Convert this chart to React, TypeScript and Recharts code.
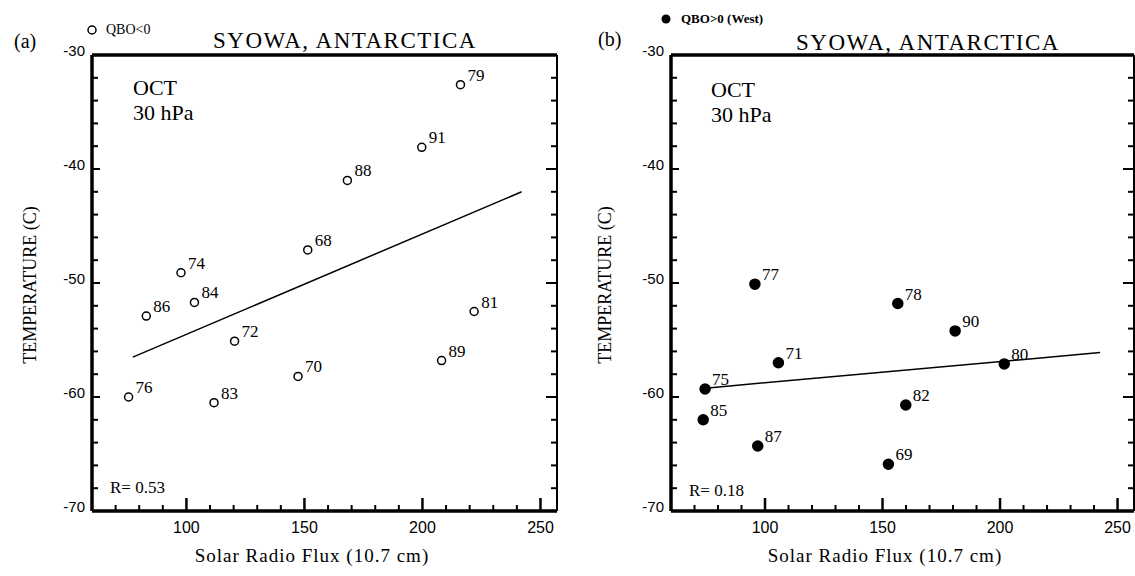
import React from "react";
import { ScatterChart, Scatter, XAxis, YAxis, ReferenceLine } from "recharts";

// panel (a): QBO<0 (open circles)
const yearsA = ["68", "70", "72", "74", "76", "79", "81", "83", "84", "86", "88", "89", "91"];
const fluxA = [151.4, 147.3, 120.4, 97.7, 75.5, 216.1, 221.9, 111.7, 103.4, 83.0, 168.2, 208.1, 199.7];
const tempA = [-47.1, -58.2, -55.1, -49.1, -60.0, -32.6, -52.5, -60.5, -51.7, -52.9, -41.0, -56.8, -38.1];
const fitFluxA = [77.3, 242.0];
const fitTempA = [-56.5, -42.0];

// panel (b): QBO>0 (West), filled dots
const yearsB = ["69", "71", "75", "77", "78", "80", "82", "85", "87", "90"];
const fluxB = [152.5, 105.7, 74.5, 95.7, 156.5, 201.8, 159.9, 73.7, 96.9, 180.9];
const tempB = [-65.9, -57.0, -59.3, -50.1, -51.8, -57.1, -60.7, -62.0, -64.3, -54.2];
const fitFluxB = [75.9, 242.6];
const fitTempB = [-59.2, -56.1];

const xTicks = [60, 70, 80, 90, 100, 110, 120, 130, 140, 150, 160, 170, 180, 190, 200, 210, 220, 230, 240, 250];
const xLabels = [100, 150, 200, 250];
const yTicks = [-70, -68, -66, -64, -62, -60, -58, -56, -54, -52, -50, -48, -46, -44, -42, -40, -38, -36, -34, -32, -30];
const yLabels = [-70, -60, -50, -40, -30];

const serif = "'Liberation Serif', 'Times New Roman', serif";
const sans = "'Liberation Sans', Arial, sans-serif";

const toRows = (years: string[], flux: number[], temp: number[]) =>
  years.map((yr, i) => ({ yr, flux: flux[i], temp: temp[i] }));

const BottomTick = (p: any) => {
  const v = p.payload.value;
  const major = v % 50 === 0;
  return (
    <g>
      <path d={`M${p.x},${p.y}V${p.y - (major ? 13 : 6)}`} stroke="#000" strokeWidth={major ? 2.5 : 2} fill="none" />
      {xLabels.includes(v) && (
        <text x={p.x} y={p.y + 22} textAnchor="middle" fontFamily={sans} fontSize={16} fill="#000">
          {v}
        </text>
      )}
    </g>
  );
};

const TopTick = (p: any) => {
  const major = p.payload.value % 50 === 0;
  return <path d={`M${p.x},${p.y}V${p.y + (major ? 12 : 6)}`} stroke="#000" strokeWidth={major ? 2.5 : 2} fill="none" />;
};

const LeftTick = (p: any) => {
  const v = p.payload.value;
  const major = v % 10 === 0;
  return (
    <g>
      <path d={`M${p.x},${p.y}H${p.x + (major ? 8 : 6)}`} stroke="#000" strokeWidth={2} fill="none" />
      {yLabels.includes(v) && (
        <text x={p.x - 7} y={p.y - 5} dominantBaseline="central" textAnchor="end" fontFamily={sans} fontSize={15} fill="#000">
          {v}
        </text>
      )}
    </g>
  );
};

const RightTick = (p: any) => {
  const major = p.payload.value % 10 === 0;
  return <path d={`M${p.x},${p.y}H${p.x - (major ? 11 : 6)}`} stroke="#000" strokeWidth={2} fill="none" />;
};

const Pt = (p: any, filled: boolean) => (
  <g>
    <circle cx={p.cx} cy={p.cy} r={filled ? 5 : 4} fill={filled ? "#000" : "#fff"} stroke="#000" strokeWidth={1.5} />
    <text x={p.cx + 7} y={p.cy - 4} fontFamily={serif} fontSize={17} fill="#000">
      {p.payload.yr}
    </text>
  </g>
);

const heavy = { stroke: "#000", strokeWidth: 3.5 };
const light = { stroke: "#000", strokeWidth: 2 };

// axes get a 1px box (recharts skips zero-sized axes); margins below are reduced by that 1px
const Panel = ({ rows, fitX, fitY, filled, width, margin }: any) => (
  <ScatterChart width={width} height={576} margin={margin}>
    <XAxis xAxisId="b" dataKey="flux" type="number" domain={[60, 257]} ticks={xTicks} interval={0} height={1}
      tickSize={0} tickMargin={0} tickLine={false} tick={BottomTick} {...heavy} axisLine={heavy} allowDataOverflow />
    <XAxis xAxisId="t" orientation="top" type="number" domain={[60, 257]} ticks={xTicks} interval={0} height={1}
      tickSize={0} tickMargin={0} tickLine={false} tick={TopTick} {...heavy} axisLine={heavy} allowDataOverflow />
    <YAxis yAxisId="l" dataKey="temp" type="number" domain={[-70, -30]} ticks={yTicks} interval={0} width={1}
      tickSize={0} tickMargin={0} tickLine={false} tick={LeftTick} {...heavy} axisLine={heavy} allowDataOverflow />
    <YAxis yAxisId="r" orientation="right" type="number" domain={[-70, -30]} ticks={yTicks} interval={0} width={1}
      tickSize={0} tickMargin={0} tickLine={false} tick={RightTick} {...light} axisLine={light} allowDataOverflow />
    <ReferenceLine xAxisId="b" yAxisId="l" ifOverflow="visible" stroke="#000" strokeWidth={1.5}
      segment={[{ x: fitX[0], y: fitY[0] }, { x: fitX[1], y: fitY[1] }]} />
    <Scatter xAxisId="b" yAxisId="l" data={rows} isAnimationActive={false} shape={(p: any) => Pt(p, filled)} />
  </ScatterChart>
);

const T = (props: any) => <text fontFamily={serif} fill="#000" {...props} />;

export default function App() {
  return (
    <div style={{ position: "absolute", left: 0, top: 0, width: 1135, height: 576, overflow: "hidden", background: "#fff" }}>
      <div style={{ position: "absolute", left: 0, top: 0 }}>
        <Panel rows={toRows(yearsA, fluxA, tempA)} fitX={fitFluxA} fitY={fitTempA} filled={false} width={567}
          margin={{ top: 54, left: 91, right: 9, bottom: 64 }} />
      </div>
      <div style={{ position: "absolute", left: 567, top: 0 }}>
        <Panel rows={toRows(yearsB, fluxB, tempB)} fitX={fitFluxB} fitY={fitTempB} filled={true} width={568}
          margin={{ top: 54, left: 103, right: 0, bottom: 64 }} />
      </div>
      <svg width={1135} height={576} style={{ position: "absolute", left: 0, top: 0, pointerEvents: "none" }}>
        {/* panel (a) */}
        <T x={14} y={48} fontSize={20}>(a)</T>
        <circle cx={92} cy={30} r={4} fill="#fff" stroke="#000" strokeWidth={1.5} />
        <T x={106} y={34} fontSize={14}>QBO&lt;0</T>
        <T x={345} y={48} fontSize={23} textAnchor="middle" letterSpacing={1.5}>SYOWA, ANTARCTICA</T>
        <T x={133} y={95} fontSize={22}>OCT</T>
        <T x={133} y={120} fontSize={22}>30 hPa</T>
        <T x={110} y={493} fontSize={17}>R= 0.53</T>
        <T x={0} y={0} fontSize={18} textAnchor="middle" transform="translate(36,285) rotate(-90)">TEMPERATURE (C)</T>
        <T x={312} y={562} fontSize={19} textAnchor="middle" letterSpacing={1}>Solar Radio Flux (10.7 cm)</T>
        {/* panel (b) */}
        <T x={598} y={46} fontSize={20}>(b)</T>
        <circle cx={666} cy={19} r={4.5} fill="#000" />
        <T x={681} y={23} fontSize={13} fontWeight="bold">QBO&gt;0 (West)</T>
        <T x={928} y={50} fontSize={23} textAnchor="middle" letterSpacing={1.5}>SYOWA, ANTARCTICA</T>
        <T x={711} y={97} fontSize={22}>OCT</T>
        <T x={711} y={122} fontSize={22}>30 hPa</T>
        <T x={689} y={496} fontSize={17}>R= 0.18</T>
        <T x={0} y={0} fontSize={18} textAnchor="middle" transform="translate(611,285) rotate(-90)">TEMPERATURE (C)</T>
        <T x={885} y={562} fontSize={19} textAnchor="middle" letterSpacing={1}>Solar Radio Flux (10.7 cm)</T>
      </svg>
    </div>
  );
}
